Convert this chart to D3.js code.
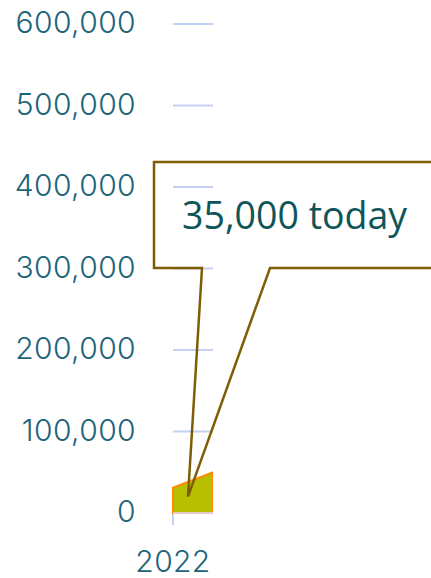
<!DOCTYPE html>
<html>
<head>
<meta charset="utf-8">
<script src="https://cdn.jsdelivr.net/npm/d3@7"></script>
<style>
  body { margin: 0; background: #fff; }
</style>
</head>
<body>
<svg width="431" height="578"></svg>
<script>
var years = [2022, 2023];
var visitors = [31000, 50000];
var yTicks = [0, 100000, 200000, 300000, 400000, 500000, 600000];
var xTicks = [2022];
var note = "35,000 today";
var noteAt = { year: 2022.375, value: 20000 };

var data = years.map(function (y, i) {
  return { year: y, value: visitors[i] };
});

var svg = d3.select("svg"),
  plotLeft = 173,
  plotRight = 213,
  plotTop = 24,
  plotBottom = 513;

var x = d3.scaleLinear().domain([2022, 2023]).range([plotLeft, plotRight]);
var y = d3.scaleLinear().domain([0, 600000]).range([plotBottom, plotTop]);

svg.append("defs")
  .append("clipPath")
  .attr("id", "plot")
  .append("rect")
  .attr("x", plotLeft - 2)
  .attr("y", plotTop - 5)
  .attr("width", plotRight - plotLeft + 2)
  .attr("height", plotBottom - plotTop + 10);

// grid lines
svg.append("g")
  .selectAll("line")
  .data(yTicks)
  .enter()
  .append("line")
  .attr("x1", plotLeft)
  .attr("x2", plotRight)
  .attr("y1", function (d) { return y(d); })
  .attr("y2", function (d) { return y(d); })
  .style("stroke", "#c5d0f5")
  .style("stroke-width", 2);

// y labels
svg.append("g")
  .selectAll("text")
  .data(yTicks)
  .enter()
  .append("text")
  .attr("x", plotLeft - 37)
  .attr("y", function (d) { return y(d); })
  .attr("dy", "0.3em")
  .attr("text-anchor", "end")
  .style("font-family", "Inter")
  .style("font-weight", 300)
  .style("font-size", "30px")
  .style("letter-spacing", "0.4px")
  .style("fill", "#1d6479")
  .text(d3.format(","));

// x axis tick + label
svg.append("g")
  .selectAll("line")
  .data(xTicks)
  .enter()
  .append("line")
  .attr("x1", function (d) { return x(d); })
  .attr("x2", function (d) { return x(d); })
  .attr("y1", plotBottom)
  .attr("y2", plotBottom + 12)
  .style("stroke", "#c5d0f5")
  .style("stroke-width", 2);

svg.append("g")
  .selectAll("text")
  .data(xTicks)
  .enter()
  .append("text")
  .attr("x", function (d) { return x(d); })
  .attr("y", 572)
  .attr("text-anchor", "middle")
  .style("font-family", "Inter")
  .style("font-weight", 300)
  .style("font-size", "30px")
  .style("letter-spacing", "0.4px")
  .style("fill", "#1d6479")
  .text(function (d) { return d; });

var area = d3.area()
  .x(function (d) { return x(d.year); })
  .y0(plotBottom)
  .y1(function (d) { return y(d.value); });

var plot = svg.append("g").attr("clip-path", "url(#plot)");

plot.append("path")
  .datum(data)
  .attr("d", area)
  .style("fill", "#b8bf00")
  .style("stroke", "#ff8a00")
  .style("stroke-width", 2);

plot.append("line")
  .attr("x1", plotLeft)
  .attr("x2", plotRight)
  .attr("y1", plotBottom)
  .attr("y2", plotBottom)
  .style("stroke", "#e5c9c9")
  .style("stroke-width", 2);

// callout
var tipX = x(noteAt.year),
  tipY = y(noteAt.value),
  bx0 = 154,
  by0 = 162,
  bx1 = 440,
  by1 = 268,
  gap0 = 202,
  gap1 = 270;

svg.append("path")
  .attr("d",
    "M" + gap0 + "," + by1 +
    "L" + bx0 + "," + by1 +
    "L" + bx0 + "," + by0 +
    "L" + bx1 + "," + by0 +
    "L" + bx1 + "," + by1 +
    "L" + gap1 + "," + by1 +
    "L" + tipX + "," + tipY + "Z")
  .style("fill", "none")
  .style("stroke", "#7d5e05")
  .style("stroke-width", 2.5)
  .style("stroke-linejoin", "miter");

svg.append("text")
  .attr("x", 182)
  .attr("y", 229)
  .style("font-family", "Open Sans")
  .style("font-size", "37.5px")
  .style("fill", "#0e5559")
  .text(note);
</script>
</body>
</html>
